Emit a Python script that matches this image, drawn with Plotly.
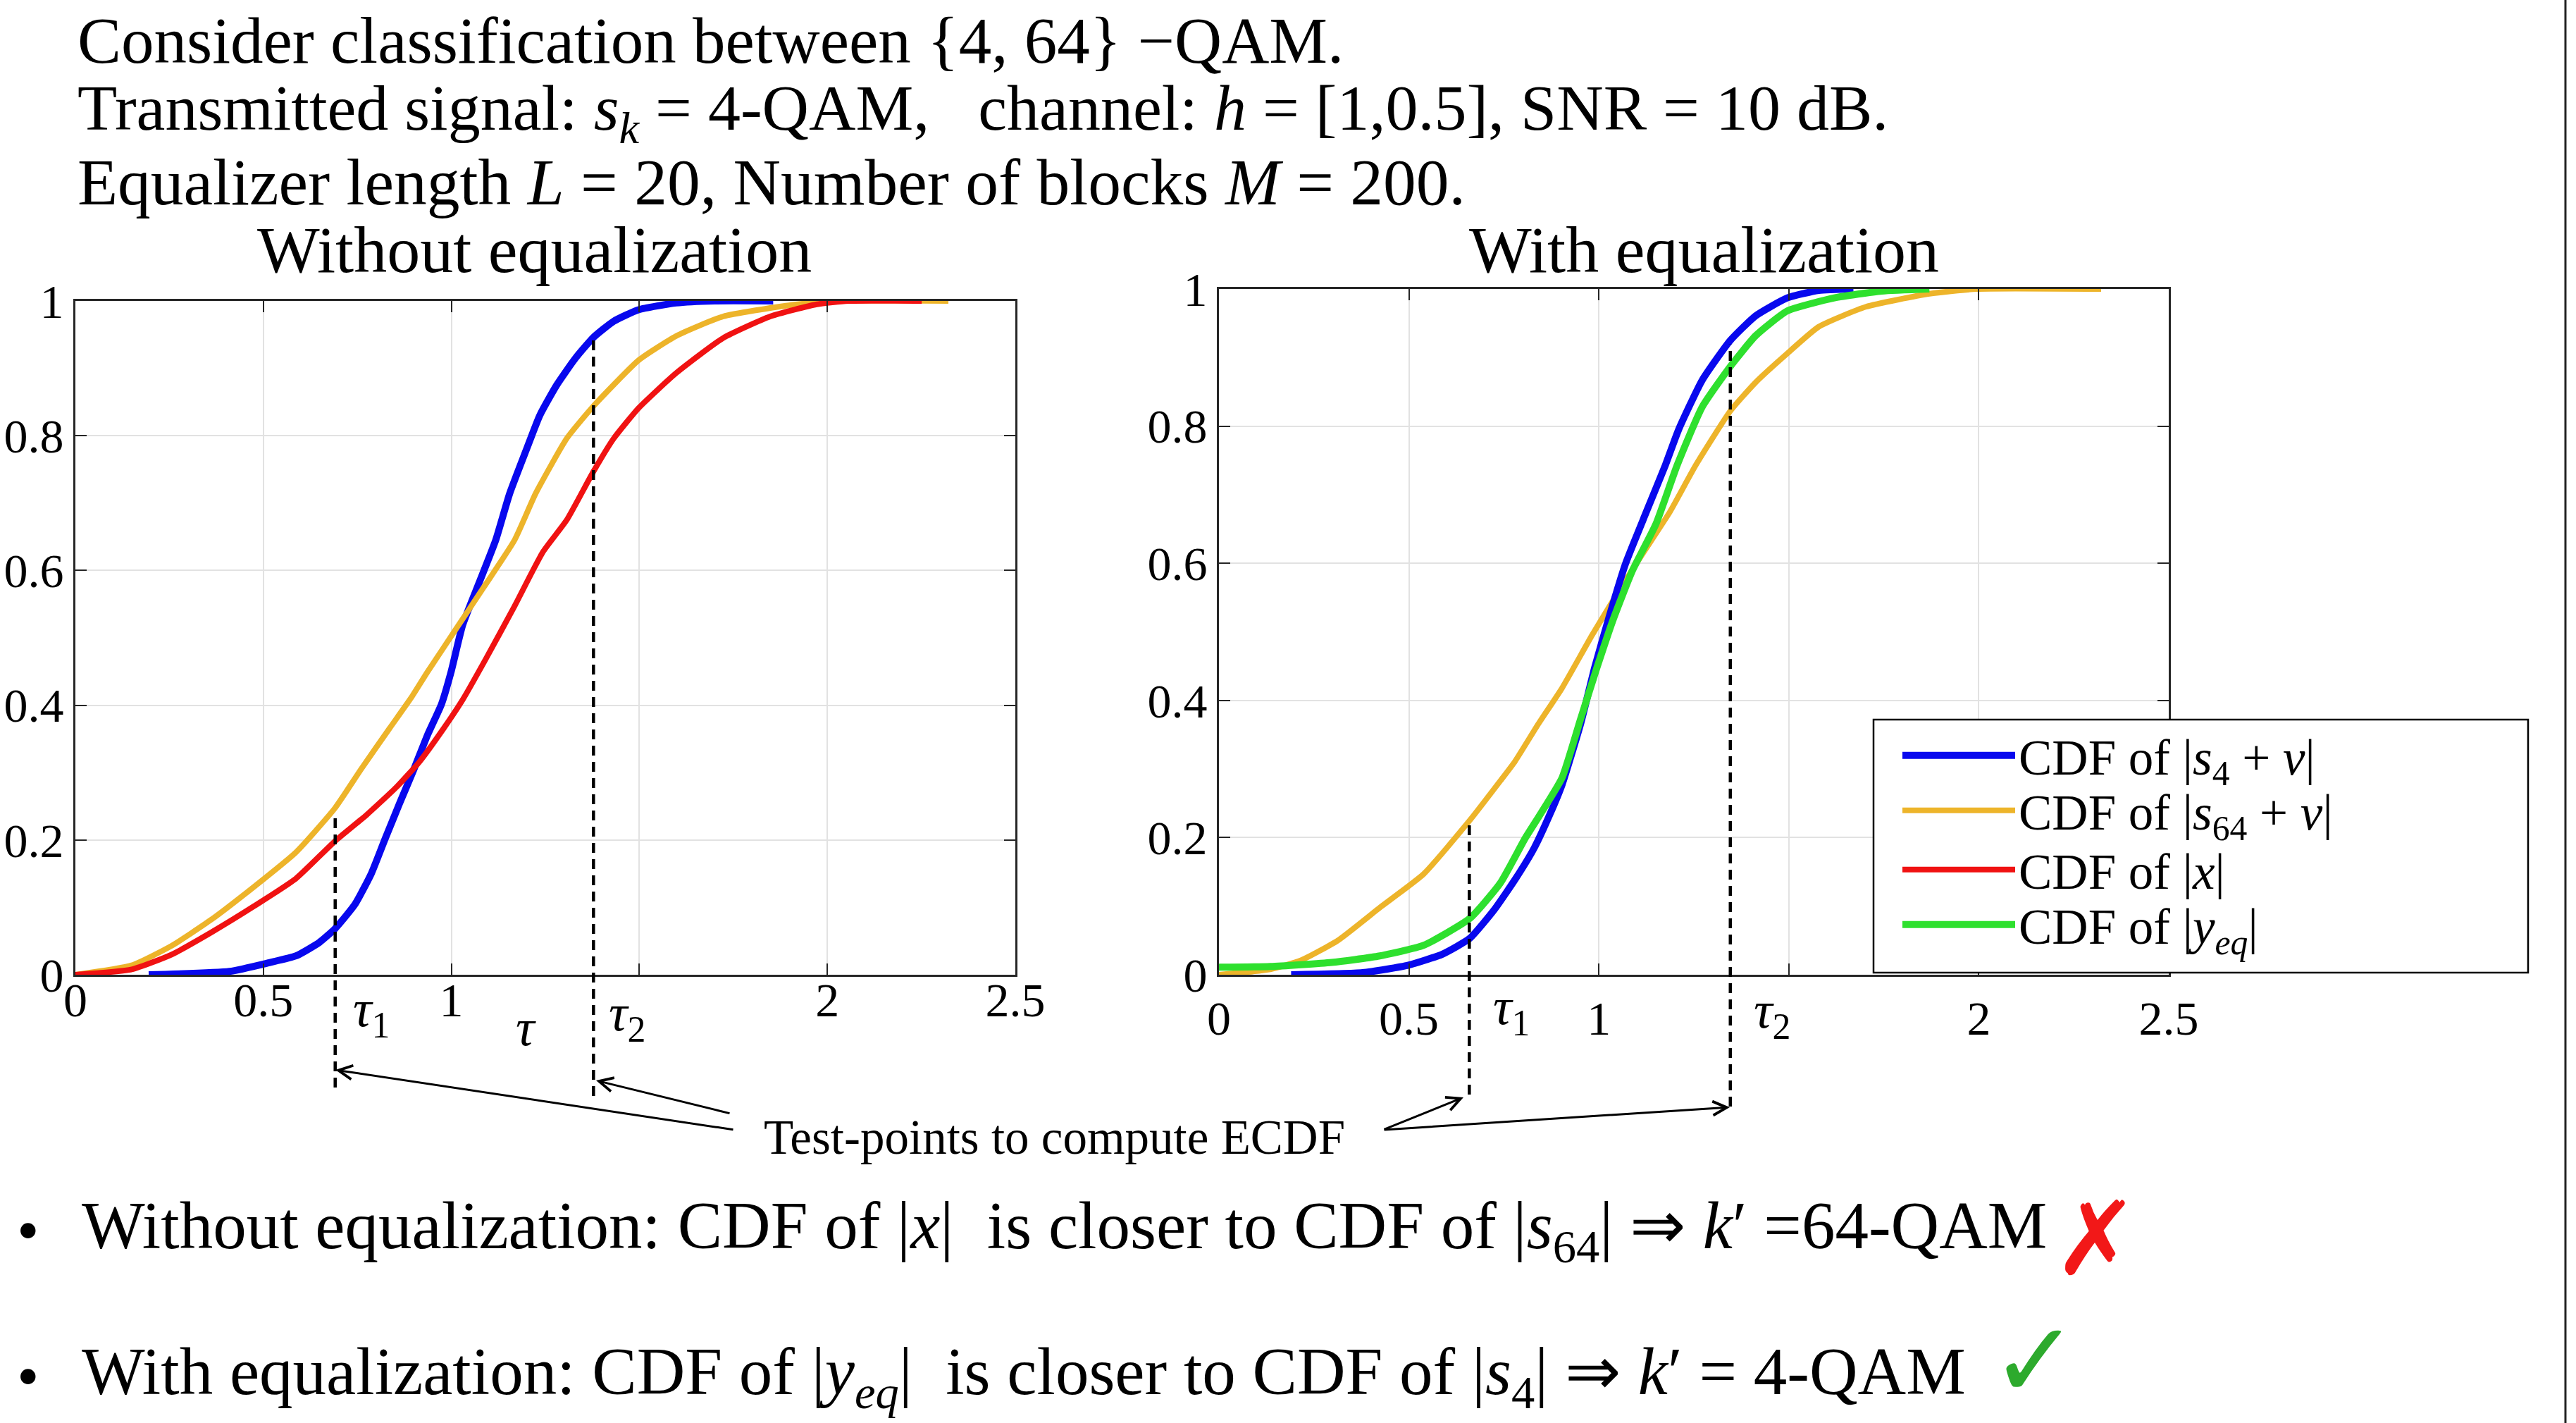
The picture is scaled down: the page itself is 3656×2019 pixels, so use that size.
import plotly.graph_objects as go

W, H = 3656, 2019
FONT = "Liberation Serif"

# ---------------- data ----------------
# Left panel: without equalization
blue_left_x = [0.195, 0.41, 0.516, 0.587, 0.649, 0.69, 0.743, 0.787, 0.824, 0.862, 0.899, 0.936, 0.974,
               0.999, 1.03, 1.074, 1.118, 1.155, 1.20, 1.235, 1.28, 1.33, 1.378, 1.432, 1.498, 1.598,
               1.70, 1.856]
blue_left_y = [0.0, 0.005, 0.018, 0.028, 0.048, 0.068, 0.104, 0.150, 0.202, 0.254, 0.303, 0.355, 0.402,
               0.449, 0.519, 0.582, 0.645, 0.714, 0.78, 0.83, 0.875, 0.915, 0.946, 0.970, 0.987, 0.997,
               1.0, 1.0]

orange_left_x = [0.0, 0.15, 0.256, 0.362, 0.476, 0.587, 0.69, 0.761, 0.836, 0.893, 0.936, 1.011, 1.086,
                 1.168, 1.224, 1.307, 1.378, 1.498, 1.598, 1.723, 1.89, 2.014, 2.322]
orange_left_y = [0.0, 0.014, 0.043, 0.082, 0.131, 0.182, 0.247, 0.306, 0.366, 0.411, 0.449, 0.512, 0.575,
                 0.645, 0.714, 0.796, 0.844, 0.912, 0.948, 0.977, 0.993, 1.0, 1.0]

red_left_x = [0.0, 0.15, 0.256, 0.362, 0.476, 0.587, 0.69, 0.774, 0.855, 0.915, 0.98, 1.03, 1.093, 1.168,
              1.243, 1.307, 1.378, 1.432, 1.498, 1.598, 1.723, 1.848, 1.972, 2.056, 2.251]
red_left_y = [0.0, 0.008, 0.03, 0.063, 0.102, 0.143, 0.198, 0.237, 0.279, 0.316, 0.366, 0.408, 0.47, 0.547,
              0.627, 0.675, 0.747, 0.796, 0.841, 0.893, 0.945, 0.977, 0.995, 1.0, 1.0]

# Right panel: with equalization
blue_right_x = [0.19, 0.378, 0.499, 0.588, 0.66, 0.725, 0.782, 0.83, 0.872, 0.903, 0.952, 0.989, 1.026,
                1.07, 1.125, 1.175, 1.21, 1.272, 1.346, 1.413, 1.496, 1.579, 1.67]
blue_right_y = [0.0, 0.003, 0.014, 0.03, 0.053, 0.095, 0.141, 0.185, 0.235, 0.277, 0.366, 0.448, 0.52,
                0.599, 0.675, 0.743, 0.795, 0.867, 0.925, 0.961, 0.987, 0.998, 1.0]

green_right_x = [0.0, 0.135, 0.297, 0.418, 0.539, 0.66, 0.741, 0.806, 0.847, 0.903, 0.952, 0.995, 1.039,
                 1.088, 1.15, 1.206, 1.272, 1.346, 1.413, 1.496, 1.62, 1.745, 1.87]
green_right_y = [0.011, 0.012, 0.018, 0.027, 0.043, 0.082, 0.134, 0.199, 0.235, 0.287, 0.373, 0.448, 0.52,
                 0.589, 0.657, 0.743, 0.828, 0.887, 0.932, 0.968, 0.987, 0.997, 1.0]

orange_right_x = [0.0, 0.135, 0.216, 0.313, 0.426, 0.539, 0.66, 0.741, 0.779, 0.841, 0.903, 0.983, 1.051,
                  1.113, 1.187, 1.255, 1.346, 1.413, 1.496, 1.579, 1.703, 1.87, 1.994, 2.322]
orange_right_y = [0.0, 0.008, 0.021, 0.05, 0.099, 0.147, 0.225, 0.283, 0.311, 0.366, 0.418, 0.496, 0.558,
                  0.612, 0.675, 0.743, 0.822, 0.864, 0.906, 0.945, 0.974, 0.993, 1.0, 1.0]

# Test points (tau) and the CDF level where the dashed marker starts
tau_left = [0.691, 1.378]
tau_left_top = [0.241, 0.945]
tau_right = [0.659, 1.346]
tau_right_top = [0.222, 0.919]

x_tickvals = [0, 0.5, 1, 1.5, 2, 2.5]
x_ticktext = ["0", "0.5", "1", "", "2", "2.5"]
y_tickvals = [0, 0.2, 0.4, 0.6, 0.8, 1]
y_ticktext = ["0", "0.2", "0.4", "0.6", "0.8", "1"]

legend_names = ["CDF of |<i>s</i><sub>4</sub> + <i>v</i>|",
                "CDF of |<i>s</i><sub>64</sub> + <i>v</i>|",
                "CDF of |<i>x</i>|",
                "CDF of |<i>y<sub>eq</sub></i>|"]

BLUE = "#0808EE"
ORANGE = "#EDB42A"
RED = "#F01212"
GREEN = "#2EE02E"


# ---------------- layout helpers (pixel -> paper) ----------------
def px(xp):
    return xp / W


def py(yp):
    return 1 - yp / H


L_X = (107, 1441)
L_Y = (427, 1383)
R_X = (1730, 3078)
R_Y = (410, 1383)

L_DOM_Y = [py(L_Y[1]), py(L_Y[0])]
R_DOM_Y = [py(R_Y[1]), py(R_Y[0])]

fig = go.Figure()


def line(color, width):
    return dict(color=color, width=width, shape="spline", smoothing=0.5)


fig.add_trace(go.Scatter(x=blue_left_x, y=blue_left_y, mode="lines", line=line(BLUE, 10),
                         name=legend_names[0], legend="legend", xaxis="x", yaxis="y"))
fig.add_trace(go.Scatter(x=orange_left_x, y=orange_left_y, mode="lines", line=line(ORANGE, 8),
                         name=legend_names[1], legend="legend2", xaxis="x", yaxis="y"))
fig.add_trace(go.Scatter(x=red_left_x, y=red_left_y, mode="lines", line=line(RED, 8),
                         name=legend_names[2], legend="legend3", xaxis="x", yaxis="y"))
fig.add_trace(go.Scatter(x=orange_right_x, y=orange_right_y, mode="lines", line=line(ORANGE, 8),
                         name=legend_names[1], showlegend=False, xaxis="x2", yaxis="y2"))
fig.add_trace(go.Scatter(x=blue_right_x, y=blue_right_y, mode="lines", line=line(BLUE, 10),
                         name=legend_names[0], showlegend=False, xaxis="x2", yaxis="y2"))
fig.add_trace(go.Scatter(x=green_right_x, y=green_right_y, mode="lines", line=line(GREEN, 10),
                         name=legend_names[3], legend="legend4", xaxis="x2", yaxis="y2"))

TICKFONT = dict(family=FONT, size=68, color="black")
axis_style = dict(showline=True, linecolor="#262626", linewidth=3, mirror="ticks",
                  ticks="inside", ticklen=16, tickwidth=2, tickcolor="#262626",
                  showgrid=True, gridcolor="#E2E2E2", gridwidth=2, zeroline=False,
                  automargin=False, tickfont=TICKFONT, fixedrange=True)

xcommon = dict(range=[0, 2.5], tickvals=x_tickvals, ticktext=x_ticktext, **axis_style)
ycommon = dict(range=[0, 1], tickvals=y_tickvals, ticktext=y_ticktext, **axis_style)

LEG_X = px(2695)
LEG_ROWS = [1072, 1150, 1234, 1312]


def leg(row):
    return dict(x=LEG_X, y=py(row), xanchor="left", yanchor="middle",
                bgcolor="rgba(0,0,0,0)", borderwidth=0, itemwidth=160,
                font=dict(family=FONT, size=71, color="black"))


fig.update_layout(
    width=W, height=H, autosize=False,
    margin=dict(l=0, r=0, t=0, b=0, pad=0, autoexpand=False),
    paper_bgcolor="white", plot_bgcolor="white",
    # left panel's tick labels sit a little closer to the axis than the right panel's
    xaxis=dict(domain=[px(L_X[0]), px(L_X[1])], anchor="y", ticklabelstandoff=-26, **xcommon),
    yaxis=dict(domain=L_DOM_Y, anchor="x", **ycommon),
    xaxis2=dict(domain=[px(R_X[0]), px(R_X[1])], anchor="y2", **xcommon),
    yaxis2=dict(domain=R_DOM_Y, anchor="x2", **ycommon),
    showlegend=True,
    legend=leg(LEG_ROWS[0]),
    legend2=leg(LEG_ROWS[1]),
    legend3=leg(LEG_ROWS[2]),
    legend4=leg(LEG_ROWS[3]),
)

shapes = []
# dashed test-point markers (extend below the axes)
for taus, tops, bottoms, xr, dom in [
    (tau_left, tau_left_top, [1543, 1555], "x", L_DOM_Y),
    (tau_right, tau_right_top, [1553, 1570], "x2", R_DOM_Y),
]:
    for t, top, b in zip(taus, tops, bottoms):
        shapes.append(dict(type="line", xref=xr, yref="paper", x0=t, x1=t,
                           y0=py(b), y1=dom[0] + top * (dom[1] - dom[0]),
                           line=dict(color="black", width=4.5, dash="14px,9px")))
# legend box
shapes.append(dict(type="rect", xref="paper", yref="paper", x0=px(2659), x1=px(3588),
                   y0=py(1380), y1=py(1021), fillcolor="white",
                   line=dict(color="black", width=2.5), layer="above"))
# right page border line
shapes.append(dict(type="line", xref="paper", yref="paper", x0=px(3641), x1=px(3641),
                   y0=0, y1=1, line=dict(color="#222222", width=3)))

ann = []


def text(x, y, s, size, anchor="left", color="black", family=FONT):
    ann.append(dict(x=px(x), y=py(y), xref="paper", yref="paper", text=s, showarrow=False,
                    xanchor=anchor, yanchor="middle",
                    font=dict(family=family, size=size, color=color)))


NB = "\u00a0"
text(108, 57, "Consider classification between {4, 64} −QAM.", 93)
text(108, 160, "Transmitted signal: <i>s<sub>k</sub></i> = 4-QAM," + NB * 3 +
     "channel: <i>h</i> = [1,0.5], SNR = 10 dB.", 92)
text(108, 258, "Equalizer length <i>L</i> = 20, Number of blocks <i>M</i> = 200.", 93.5)
text(758, 354, "Without equalization", 94, anchor="center")
text(2418, 354, "With equalization", 94, anchor="center")

# tau labels
text(527, 1436, "<i>τ</i><sub>1</sub>", 74, anchor="center")
text(746, 1458, "<i>τ</i>", 74, anchor="center")
text(890, 1442, "<i>τ</i><sub>2</sub>", 74, anchor="center")
text(2145, 1433, "<i>τ</i><sub>1</sub>", 74, anchor="center")
text(2515, 1438, "<i>τ</i><sub>2</sub>", 74, anchor="center")

text(1496, 1614, "Test-points to compute ECDF", 69, anchor="center")

# bullets
text(40, 1745, "•", 90, anchor="center")
text(114, 1745, "Without equalization: CDF of |<i>x</i>|" + NB * 2 +
     "is closer to CDF of |<i>s</i><sub>64</sub>| ⇒ <i>k</i>′ =64-QAM", 95)
text(40, 1952, "•", 90, anchor="center")
text(114, 1952, "With equalization: CDF of |<i>y<sub>eq</sub></i>|" + NB * 2 +
     "is closer to CDF of |<i>s</i><sub>4</sub>| ⇒ <i>k</i>′ = 4-QAM", 95)

text(2975, 1757, "✗", 145, anchor="center", color="#F21818", family="DejaVu Sans")
text(2888, 1930, "✓", 150, anchor="center", color="#2DAA2D", family="DejaVu Sans")

# arrows from the label to the test points
for (tx, ty), (hx, hy) in [((1042, 1603), (476, 1518)),
                           ((1037, 1580), (846, 1533)),
                           ((1963, 1603), (2077, 1557)),
                           ((1963, 1603), (2455, 1571))]:
    ann.append(dict(x=px(hx), y=py(hy), xref="paper", yref="paper", text="",
                    showarrow=True, ax=tx - hx, ay=ty - hy, axref="pixel", ayref="pixel",
                    arrowhead=5, arrowsize=1.3, arrowwidth=3, arrowcolor="black"))

fig.update_layout(shapes=shapes, annotations=ann)

fig.write_html("out.html", config={"displayModeBar": False},
               post_script="document.body.style.margin='0';document.body.style.overflow='hidden';")
